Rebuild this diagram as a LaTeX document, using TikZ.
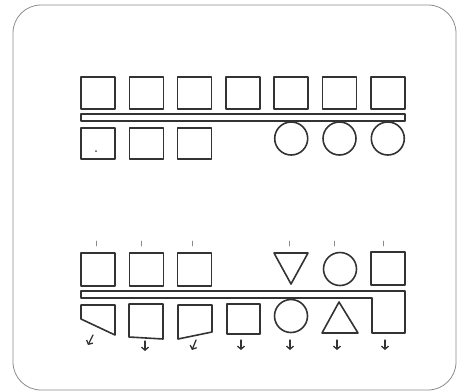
\documentclass[tikz,border=0pt]{standalone}
\usetikzlibrary{arrows.meta}

\begin{document}
\begin{tikzpicture}[x=1pt, y=-1pt, line cap=round, line join=round,
  sketch/.style={line width=1.6pt, black!80},
  tickmark/.style={line width=0.8pt, black!45},
  outarrow/.style={line width=1.3pt, black!80,
    -{Straight Barb[length=3pt, width=7pt]}}]

  \useasboundingbox (0,0) rectangle (457,391);

  % ── Frame ────────────────────────────────────────────────────────────────────
  \draw[black!45, line width=0.8pt, rounded corners=28pt] (13,5) rectangle (456,390);

  % ── Upper strip ──────────────────────────────────────────────────────────────

  % Top row
  \foreach \i in {0,...,6}
    \draw[sketch] (81+48.3*\i, 77) rectangle ++(34,32);

  % Double bar
  \draw[sketch] (81,114) rectangle (405,121);

  % Bottom row: squares and circles
  \foreach \i in {0,1,2}
    \draw[sketch] (81+48.3*\i, 128) rectangle ++(34,31);
  \foreach \i in {4,5,6}
    \draw[sketch] (98+48.3*\i, 138.5) circle (16.5pt);
  \fill[black!70] (96,151) circle (1pt);

  % ── Lower strip ──────────────────────────────────────────────────────────────

  % Ticks above
  \foreach \xi in {96,141,192,289,334,383}
    \draw[tickmark] (\xi,241) -- ++(0,5);

  % Top row
  \foreach \i in {0,1,2}
    \draw[sketch] (81+48.3*\i, 253) rectangle ++(34,33);
  \draw[sketch] (274,253) -- (308,253) -- (291,284) -- cycle;
  \draw[sketch] (340,269) circle (16.5pt);
  \draw[sketch] (371,252) rectangle (405,285);

  % Bar running into the last box
  \draw[sketch] (405,291) -- (81,291) -- (81,298) -- (372,298)
    -- (372,333) -- (405,333) -- cycle;

  % Bottom row
  \draw[sketch] (81,305) -- (115,305) -- (115,335) -- (81,319) -- cycle;
  \draw[sketch] (129,304) -- (163,304) -- (163,339) -- (129,337) -- cycle;
  \draw[sketch] (178,305) -- (212,305) -- (212,332) -- (178,339) -- cycle;
  \draw[sketch] (227,304) rectangle (260,334);
  \draw[sketch] (291,316) circle (16.5pt);
  \draw[sketch] (322,333) -- (358,333) -- (339,302) -- cycle;

  % Outputs
  \draw[outarrow] (93,335) -- (88,345);
  \draw[outarrow] (145,341) -- (145,351);
  \draw[outarrow] (196,340) -- (192,350);
  \foreach \xi in {241,290,337,385}
    \draw[outarrow] (\xi,340) -- (\xi,350);

\end{tikzpicture}
\end{document}
